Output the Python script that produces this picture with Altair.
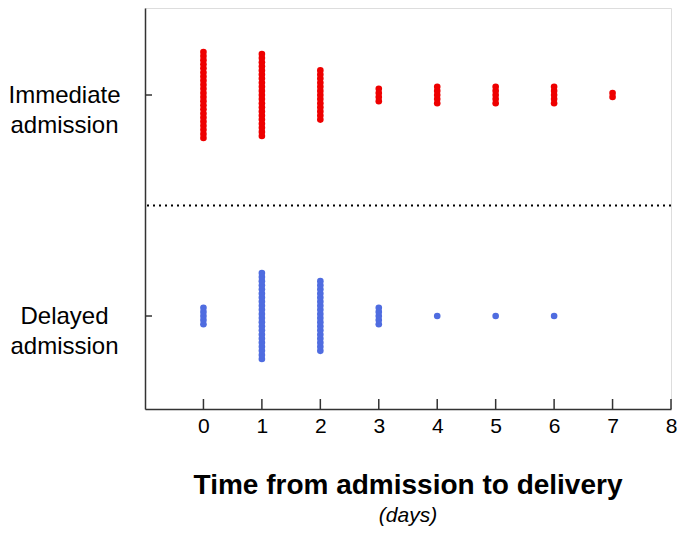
import altair as alt
import pandas as pd

# ---- data ----
days = [0, 1, 2, 3, 4, 5, 6, 7]
immediate_counts = [22, 21, 13, 4, 5, 5, 5, 2]
delayed_counts = [5, 22, 18, 5, 1, 1, 1, 0]
group_names = ["Immediate admission", "Delayed admission"]
x_ticks = [0, 1, 2, 3, 4, 5, 6, 7, 8]

rows = []
for g, counts in zip(group_names, [immediate_counts, delayed_counts]):
    for d, n in zip(days, counts):
        for i in range(n):
            rows.append({"group": g, "day": d, "i": i})
df = pd.DataFrame(rows)

STEP = 0.01855  # vertical spacing between stacked dots (y units)
Y_MIN, Y_MAX = -0.4208, 1.3937
X_MIN, X_MAX = -1, 8
W, H = 526, 401
FONT = "Liberation Sans"

xs = alt.Scale(domain=[X_MIN, X_MAX], nice=False, zero=False)
ys = alt.Scale(domain=[Y_MIN, Y_MAX], nice=False, zero=False)

x_axis = alt.Axis(values=x_ticks, format="d", ticks=False, tickSize=0, grid=False,
                  labelFontSize=21, labelPadding=6, labelFont=FONT,
                  labelColor="black", domainColor="#333", domainWidth=1.5,
                  title=None, labelFlush=False)
y_axis = alt.Axis(values=[0, 1], ticks=False, tickSize=0, grid=False,
                  labelExpr="datum.value == 1 ? ['Immediate', 'admission'] : ['Delayed', 'admission']",
                  labelFontSize=24, labelFont=FONT, labelColor="black",
                  labelAlign="center", labelBaseline="middle", labelLineHeight=30,
                  labelPadding=81, domainColor="#333", domainWidth=1.5,
                  title=None)

dots = alt.Chart(df).transform_joinaggregate(
    n="count()", groupby=["group", "day"]
).transform_calculate(
    center="datum.group == 'Immediate admission' ? 1 : 0",
).transform_calculate(
    yv=f"datum.center + (datum.i - (datum.n - 1) / 2) * {STEP}"
).mark_circle(size=44, opacity=1).encode(
    x=alt.X("day:Q", scale=xs, axis=x_axis),
    y=alt.Y("yv:Q", scale=ys, axis=y_axis),
    color=alt.Color("group:N", scale=alt.Scale(domain=group_names,
                                               range=["#EE0000", "#4F6CE0"]),
                    legend=None),
)

tick_df = pd.DataFrame({"t": x_ticks})
x_tick_marks = alt.Chart(tick_df).mark_rule(color="#333", strokeWidth=1.5).encode(
    x=alt.X("t:Q", scale=xs),
    y=alt.datum(Y_MIN, scale=ys),
    y2=alt.datum(Y_MIN + 10 / 221),
)

ytick_df = pd.DataFrame({"g": [0, 1]})
y_tick_marks = alt.Chart(ytick_df).mark_rule(color="#333", strokeWidth=1.5).encode(
    y=alt.Y("g:Q", scale=ys),
    x=alt.datum(X_MIN, scale=xs),
    x2=alt.datum(X_MIN + 7 / 58.4),
)

sep_df = pd.DataFrame({"s": [0.5]})
separator = alt.Chart(sep_df).mark_rule(color="black", strokeWidth=2,
                                         strokeDash=[2, 4]).encode(
    y=alt.Y("s:Q", scale=ys),
)

chart = alt.layer(separator, dots, x_tick_marks, y_tick_marks).properties(
    width=W, height=H,
    autosize=alt.AutoSizeParams(type="none"),
    padding={"left": 137, "top": 0, "right": 6, "bottom": 120},
    title=alt.TitleParams(
        text="Time from admission to delivery",
        subtitle="(days)",
        orient="bottom", anchor="middle", frame="group",
        font=FONT, fontSize=28, fontWeight="bold", color="black",
        subtitleFont=FONT, subtitleFontSize=21, subtitleFontStyle="italic",
        subtitleColor="black", subtitlePadding=5, offset=36,
    ),
).configure_view(stroke=None).configure(background="white")

chart.save("out.html", embed_options={"renderer": "svg", "actions": False})
